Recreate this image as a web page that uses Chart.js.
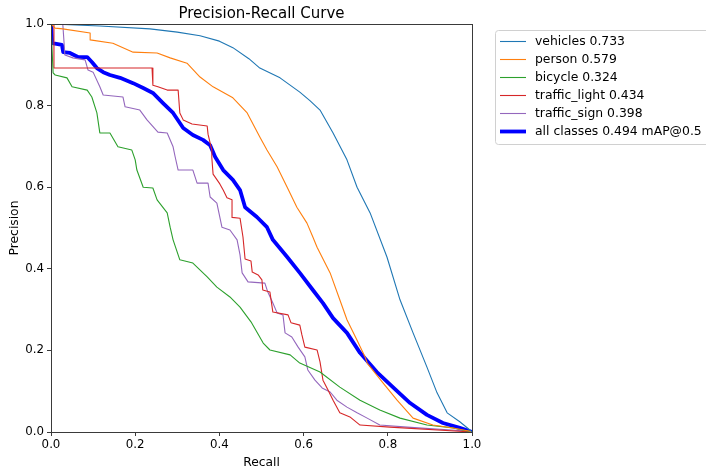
<!DOCTYPE html>
<html>
<head>
<meta charset="utf-8">
<script src="https://cdn.jsdelivr.net/npm/chart.js@4/dist/chart.umd.min.js"></script>
<style>
  html, body { margin: 0; padding: 0; background: #fff; }
  #wrap { width: 706px; height: 470px; }
</style>
</head>
<body>
<div id="wrap"><canvas id="chart" width="706" height="470"></canvas></div>
<script>
'use strict';

// per-class precision/recall curves (recall on x, precision on y)
const vehiclesRecall    = [0, 0.116, 0.235, 0.300, 0.354, 0.400, 0.432, 0.470, 0.496, 0.544, 0.591, 0.615, 0.639, 0.670, 0.703, 0.727, 0.758, 0.798, 0.829, 0.860, 0.893, 0.917, 0.941, 0.971, 0.995, 1.0];
const vehiclesPrecision = [1.0, 0.995, 0.988, 0.980, 0.971, 0.958, 0.942, 0.915, 0.892, 0.868, 0.833, 0.812, 0.789, 0.733, 0.667, 0.600, 0.537, 0.429, 0.324, 0.243, 0.159, 0.096, 0.047, 0.025, 0.005, 0];

const personRecall    = [0, 0.010, 0.028, 0.093, 0.093, 0.147, 0.195, 0.252, 0.283, 0.323, 0.354, 0.385, 0.432, 0.466, 0.496, 0.513, 0.537, 0.561, 0.584, 0.608, 0.622, 0.632, 0.663, 0.686, 0.703, 0.727, 0.746, 0.751, 0.789, 0.822, 0.860, 0.907, 0.955, 0.995, 1.0];
const personPrecision = [1.0, 0.990, 0.988, 0.978, 0.961, 0.953, 0.931, 0.929, 0.917, 0.904, 0.870, 0.846, 0.819, 0.782, 0.723, 0.691, 0.650, 0.600, 0.551, 0.512, 0.478, 0.453, 0.390, 0.324, 0.275, 0.225, 0.184, 0.169, 0.120, 0.078, 0.034, 0.017, 0.010, 0.002, 0];

const bicycleRecall    = [0, 0.005, 0.010, 0.038, 0.050, 0.086, 0.097, 0.109, 0.116, 0.140, 0.159, 0.192, 0.200, 0.204, 0.219, 0.242, 0.252, 0.276, 0.283, 0.290, 0.306, 0.337, 0.371, 0.394, 0.425, 0.449, 0.475, 0.504, 0.520, 0.568, 0.591, 0.639, 0.686, 0.734, 0.781, 0.829, 0.893, 0.955, 1.0];
const bicyclePrecision = [1.0, 0.880, 0.875, 0.868, 0.846, 0.838, 0.821, 0.782, 0.733, 0.733, 0.699, 0.691, 0.667, 0.642, 0.600, 0.598, 0.569, 0.537, 0.502, 0.471, 0.422, 0.414, 0.380, 0.355, 0.331, 0.306, 0.270, 0.218, 0.201, 0.189, 0.169, 0.147, 0.110, 0.078, 0.054, 0.034, 0.017, 0.010, 0];

const lightRecall    = [0, 0.007, 0.007, 0.240, 0.242, 0.254, 0.276, 0.302, 0.306, 0.314, 0.335, 0.371, 0.373, 0.382, 0.382, 0.385, 0.401, 0.409, 0.418, 0.430, 0.430, 0.449, 0.456, 0.461, 0.475, 0.478, 0.492, 0.501, 0.503, 0.520, 0.527, 0.563, 0.570, 0.591, 0.596, 0.603, 0.632, 0.639, 0.646, 0.658, 0.670, 0.686, 0.710, 0.734, 0.805, 1.0];
const lightPrecision = [1.0, 1.0, 0.892, 0.892, 0.850, 0.846, 0.838, 0.838, 0.782, 0.765, 0.755, 0.750, 0.730, 0.691, 0.672, 0.632, 0.608, 0.593, 0.574, 0.569, 0.526, 0.524, 0.478, 0.424, 0.419, 0.392, 0.385, 0.373, 0.348, 0.343, 0.294, 0.287, 0.268, 0.262, 0.238, 0.208, 0.201, 0.172, 0.127, 0.103, 0.078, 0.047, 0.037, 0.017, 0.012, 0];

const signRecall    = [0, 0.028, 0.033, 0.052, 0.081, 0.088, 0.100, 0.116, 0.124, 0.171, 0.176, 0.211, 0.228, 0.254, 0.276, 0.290, 0.295, 0.302, 0.337, 0.347, 0.373, 0.378, 0.394, 0.406, 0.425, 0.442, 0.449, 0.454, 0.468, 0.508, 0.515, 0.527, 0.537, 0.551, 0.556, 0.572, 0.587, 0.603, 0.610, 0.627, 0.644, 0.663, 0.679, 0.703, 0.727, 0.751, 0.781, 0.846, 0.995, 1.0];
const signPrecision = [1.0, 1.0, 0.924, 0.917, 0.912, 0.887, 0.882, 0.846, 0.826, 0.821, 0.797, 0.789, 0.765, 0.735, 0.733, 0.699, 0.674, 0.642, 0.642, 0.610, 0.610, 0.576, 0.561, 0.502, 0.495, 0.471, 0.434, 0.390, 0.368, 0.365, 0.343, 0.316, 0.292, 0.287, 0.243, 0.233, 0.208, 0.184, 0.152, 0.127, 0.108, 0.098, 0.078, 0.061, 0.047, 0.034, 0.017, 0.012, 0.002, 0];

const allRecall    = [0, 0.003, 0.026, 0.029, 0.045, 0.064, 0.086, 0.097, 0.109, 0.124, 0.140, 0.164, 0.195, 0.219, 0.242, 0.266, 0.290, 0.314, 0.337, 0.361, 0.378, 0.390, 0.409, 0.432, 0.449, 0.461, 0.489, 0.513, 0.527, 0.561, 0.591, 0.622, 0.646, 0.670, 0.703, 0.734, 0.774, 0.812, 0.853, 0.893, 0.931, 0.971, 1.0];
const allPrecision = [1.0, 0.953, 0.949, 0.931, 0.929, 0.919, 0.919, 0.907, 0.892, 0.882, 0.875, 0.868, 0.855, 0.843, 0.831, 0.806, 0.782, 0.745, 0.728, 0.716, 0.703, 0.674, 0.642, 0.618, 0.593, 0.551, 0.527, 0.502, 0.471, 0.429, 0.390, 0.348, 0.316, 0.279, 0.243, 0.194, 0.147, 0.110, 0.071, 0.042, 0.022, 0.010, 0];

const classNames = ['vehicles', 'person', 'bicycle', 'traffic_light', 'traffic_sign'];
const classAP = [0.733, 0.579, 0.324, 0.434, 0.398];
const mAP50 = 0.494;
const tickValues = [0, 0.2, 0.4, 0.6, 0.8, 1.0];

const FONT = "'DejaVu Sans', sans-serif";
const colors = ['#1f77b4', '#ff7f0e', '#2ca02c', '#d62728', '#9467bd'];

function pts(xs, ys) {
    return xs.map((x, i) => ({ x: x, y: ys[i] }));
}

const curves = [
    pts(vehiclesRecall, vehiclesPrecision),
    pts(personRecall, personPrecision),
    pts(bicycleRecall, bicyclePrecision),
    pts(lightRecall, lightPrecision),
    pts(signRecall, signPrecision)
];

const datasets = curves.map((data, i) => ({
    label: classNames[i] + ' ' + classAP[i].toFixed(3),
    data: data,
    borderColor: colors[i],
    borderWidth: 1.1
}));
datasets.push({
    label: 'all classes ' + mAP50.toFixed(3) + ' mAP@0.5',
    data: pts(allRecall, allPrecision),
    borderColor: '#0000ff',
    borderWidth: 3.8
});
datasets.forEach(d => {
    d.showLine = true;
    d.fill = false;
    d.pointRadius = 0;
    d.pointHoverRadius = 0;
    d.tension = 0;
    d.borderJoinStyle = 'round';
});

// frame, title and the boxed legend are drawn by hand, matplotlib-style
const decorations = {
    id: 'decorations',
    afterDraw(chart) {
        const ctx = chart.ctx;
        const a = chart.chartArea;
        ctx.save();
        ctx.strokeStyle = '#3a3a3a';
        ctx.lineWidth = 1;
        ctx.strokeRect(Math.round(a.left) + 0.5, Math.round(a.top) + 0.5,
                       Math.round(a.right - a.left), Math.round(a.bottom - a.top));

        ctx.fillStyle = '#000';
        ctx.font = '15px ' + FONT;
        ctx.textAlign = 'center';
        ctx.textBaseline = 'alphabetic';
        ctx.fillText('Precision-Recall Curve', (a.left + a.right) / 2, 18);

        // legend
        const bx = 495, by = 30, bw = 220, bh = 114;
        ctx.beginPath();
        ctx.roundRect(bx + 0.5, by + 0.5, bw, bh, 3);
        ctx.fillStyle = 'rgba(255,255,255,0.8)';
        ctx.fill();
        ctx.strokeStyle = '#d0d0d0';
        ctx.stroke();

        ctx.font = '12.4px ' + FONT;
        ctx.textAlign = 'left';
        ctx.textBaseline = 'middle';
        chart.data.datasets.forEach((d, i) => {
            const y = by + 11.5 + i * 18;
            ctx.beginPath();
            ctx.moveTo(500, y);
            ctx.lineTo(526, y);
            ctx.strokeStyle = d.borderColor;
            ctx.lineWidth = d.borderWidth;
            ctx.stroke();
            ctx.fillStyle = '#000';
            ctx.fillText(d.label, 535, y);
        });
        ctx.restore();
    }
};

const tickFont = { family: FONT, size: 11.8 };
const labelFont = { family: FONT, size: 12.3 };

new Chart(document.getElementById('chart'), {
    type: 'scatter',
    data: { datasets: datasets },
    options: {
        responsive: false,
        animation: false,
        layout: { padding: { top: 24, right: 234, left: 0, bottom: 0 } },
        plugins: {
            legend: { display: false },
            title: { display: false },
            tooltip: { enabled: false }
        },
        scales: {
            x: {
                type: 'linear',
                min: 0,
                max: 1,
                afterBuildTicks: s => { s.ticks = tickValues.map(v => ({ value: v })); },
                afterFit: s => { s.height = 38; },
                grid: { drawOnChartArea: false, tickLength: 4, color: '#3a3a3a' },
                border: { display: false },
                ticks: {
                    color: '#000',
                    font: tickFont,
                    padding: 2,
                    maxRotation: 0,
                    callback: v => v.toFixed(1)
                },
                title: { display: true, text: 'Recall', color: '#000', font: labelFont, padding: { top: 1, bottom: 0 } }
            },
            y: {
                type: 'linear',
                min: 0,
                max: 1,
                afterBuildTicks: s => { s.ticks = tickValues.map(v => ({ value: v })); },
                afterFit: s => { s.width = 51; },
                grid: { drawOnChartArea: false, tickLength: 4, color: '#3a3a3a' },
                border: { display: false },
                ticks: {
                    color: '#000',
                    font: tickFont,
                    padding: 3,
                    callback: v => v.toFixed(1)
                },
                title: { display: true, text: 'Precision', color: '#000', font: labelFont, padding: { top: 7, bottom: 0 } }
            }
        }
    },
    plugins: [decorations]
});
</script>
</body>
</html>
